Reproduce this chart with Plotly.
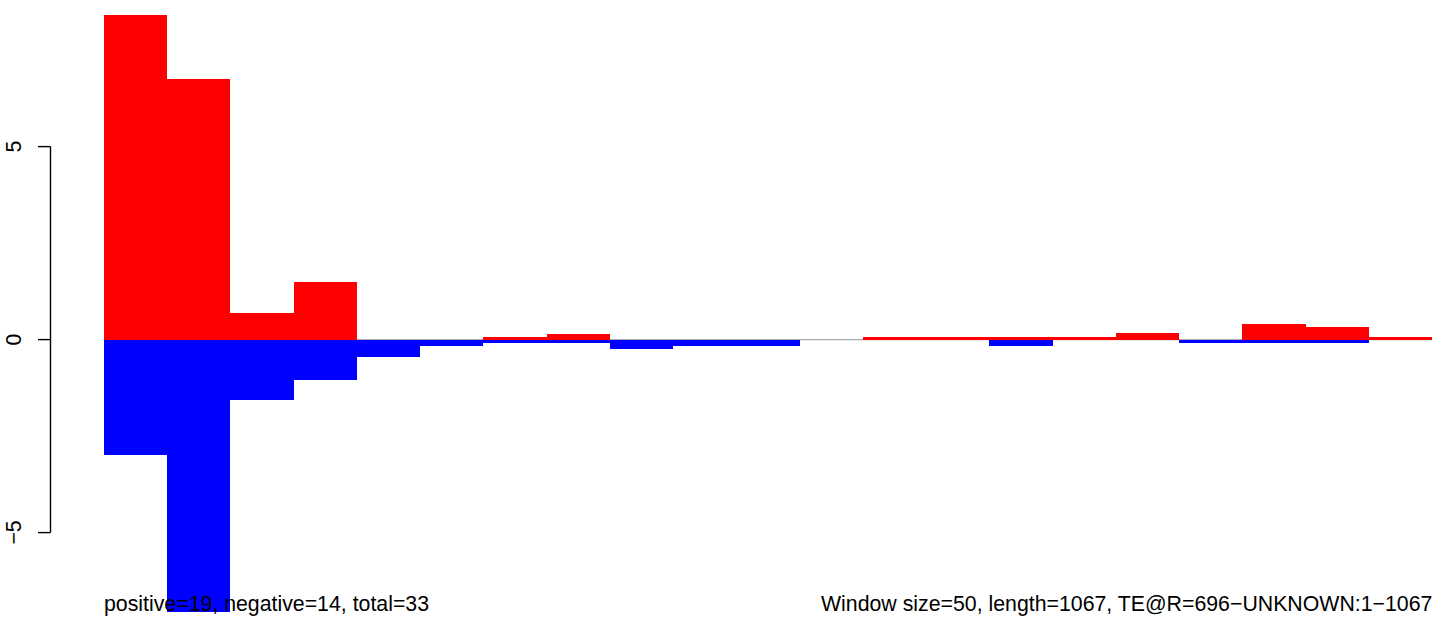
import plotly.graph_objects as go

# ---- data ----
window_size = 50
seq_length = 1067
pos_values = [8.42, 6.76, 0.70, 1.50, 0, 0, 0.07, 0.15, 0, 0, 0, 0,
              0.07, 0.07, 0.07, 0.07, 0.16, 0, 0.40, 0.32, 0.07]
neg_values = [-3.0, -7.05, -1.56, -1.05, -0.46, -0.17, -0.08, -0.08, -0.24, -0.17, -0.17, 0,
              0, 0, -0.17, 0, 0, -0.09, -0.09, -0.09, 0]
y_ticks = [-5, 0, 5]
y_tick_labels = ["\u22125", "0", "5"]
left_text = "positive=19, negative=14, total=33"
right_text = "Window size=50, length=1067, TE@R=696\u2212UNKNOWN:1\u22121067"

n = len(pos_values)
centers = [i * window_size + window_size / 2 for i in range(n)]
x_max = n * window_size

# ---- layout geometry (page pixels) ----
W, H = 1444, 634
left, right = 104, 1432
top, bottom = 10, 620
zero_px = 339.6
unit_px = 38.6
y_hi = (zero_px - top) / unit_px
y_lo = -(bottom - zero_px) / unit_px
FONT = dict(size=21.3, color="black", family="Liberation Sans, Arial, sans-serif")

fig = go.Figure()
fig.add_trace(go.Bar(x=centers, y=pos_values, width=window_size,
                     marker=dict(color="#FF0000", line=dict(width=0)),
                     hoverinfo="skip"))
fig.add_trace(go.Bar(x=centers, y=neg_values, width=window_size,
                     marker=dict(color="#0000FF", line=dict(width=0)),
                     hoverinfo="skip"))

def px_to_paper_x(px):
    return (px - left) / (right - left)

shapes = []
# gray zero line
shapes.append(dict(type="line", xref="x", yref="y", x0=0, x1=x_max, y0=0, y1=0,
                   line=dict(color="#AAAAAA", width=1.3), layer="below"))
# y axis (R-style)
ax_x = px_to_paper_x(50.5)
tick_x = px_to_paper_x(38)
shapes.append(dict(type="line", xref="paper", yref="y", x0=ax_x, x1=ax_x,
                   y0=min(y_ticks), y1=max(y_ticks), line=dict(color="black", width=1.4)))
annotations = []
lab_x = px_to_paper_x(14)
for t, lab in zip(y_ticks, y_tick_labels):
    shapes.append(dict(type="line", xref="paper", yref="y", x0=tick_x, x1=ax_x,
                       y0=t, y1=t, line=dict(color="black", width=1.4)))
    annotations.append(dict(xref="paper", yref="y", x=lab_x, y=t, text=lab,
                            showarrow=False, textangle=-90,
                            xanchor="center", yanchor="middle", font=FONT))

text_y = (bottom - 604) / (bottom - top)
annotations.append(dict(xref="paper", yref="paper", x=px_to_paper_x(102), y=text_y,
                        text=left_text, showarrow=False, xanchor="left",
                        yanchor="middle", font=FONT))
annotations.append(dict(xref="paper", yref="paper", x=px_to_paper_x(1434), y=text_y,
                        text=right_text, showarrow=False, xanchor="right",
                        yanchor="middle", font=FONT))

fig.update_layout(
    width=W, height=H,
    margin=dict(l=left, r=W - right, t=top, b=H - bottom, pad=0),
    barmode="overlay", bargap=0,
    showlegend=False,
    plot_bgcolor="white", paper_bgcolor="white",
    xaxis=dict(range=[0, x_max], visible=False, fixedrange=True),
    yaxis=dict(range=[y_lo, y_hi], visible=False, fixedrange=True),
    shapes=shapes, annotations=annotations,
)

fig.write_html("out.html",
               config={"displayModeBar": False, "staticPlot": True},
               post_script="document.body.style.margin='0';document.body.style.overflow='hidden';")
